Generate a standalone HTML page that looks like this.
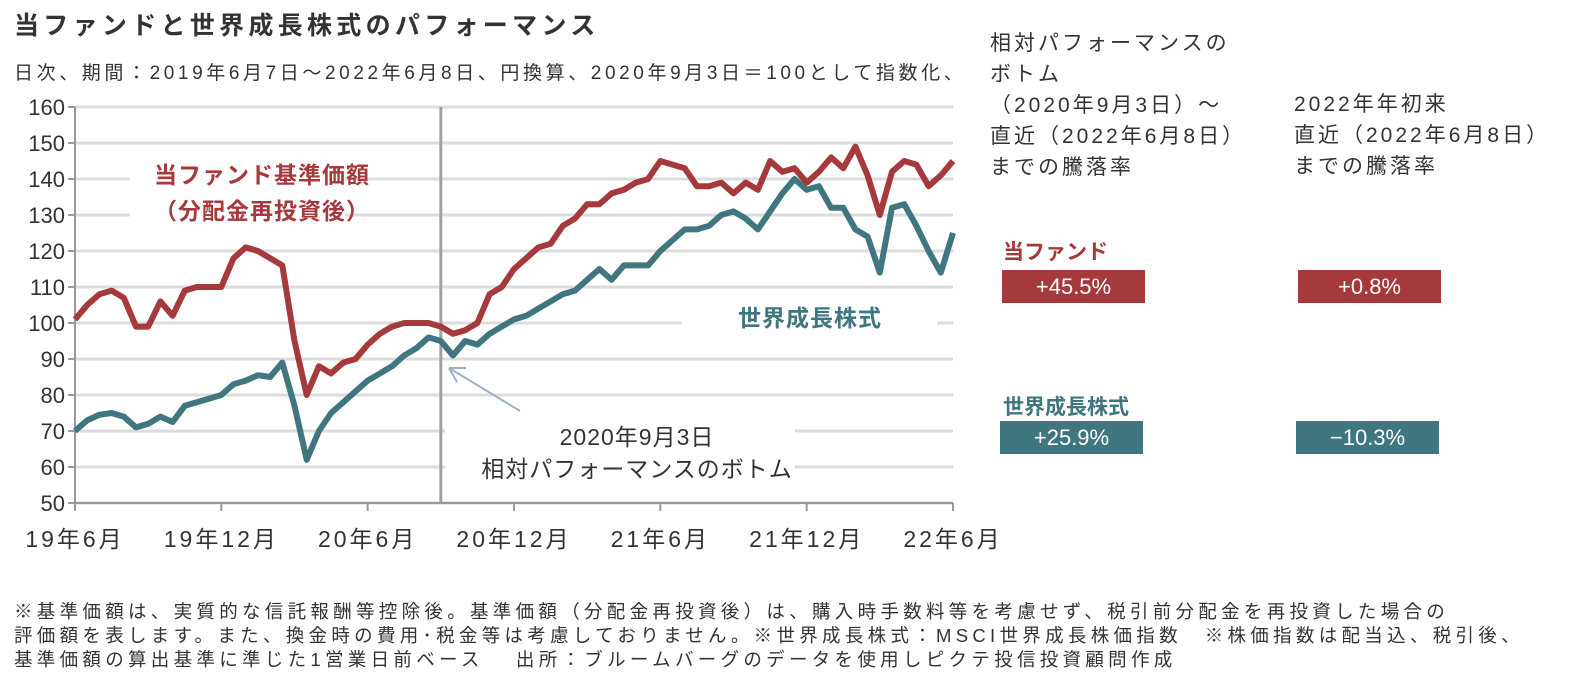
<!DOCTYPE html>
<html><head><meta charset="utf-8"><style>
body{margin:0;background:#fff;width:1570px;height:696px;overflow:hidden;font-family:"Liberation Sans","Noto Sans CJK JP",sans-serif;color:#333}
.t{position:absolute;white-space:nowrap}
.box{position:absolute;color:#fff;font-size:22px;text-align:center;line-height:33px;width:143px;height:33px}
</style></head><body>
<div class="t" style="left:14px;top:6px;font-size:25px;font-weight:bold;color:#333;letter-spacing:4.3px">当ファンドと世界成長株式のパフォーマンス</div>
<div class="t" style="left:14px;top:58px;font-size:19px;letter-spacing:3.6px">日次、期間：2019年6月7日～2022年6月8日、円換算、2020年9月3日＝100として指数化、</div>
<div class="t" style="left:990px;top:28px;font-size:21px;line-height:31px;white-space:pre;letter-spacing:3px">相対パフォーマンスの
ボトム
（2020年9月3日）～
直近（2022年6月8日）
までの騰落率</div>
<div class="t" style="left:1294px;top:89px;font-size:21px;line-height:31px;white-space:pre;letter-spacing:3px">2022年年初来
直近（2022年6月8日）
までの騰落率</div>
<div class="t" style="left:1003px;top:236px;font-size:21px;font-weight:bold;color:#A5393B">当ファンド</div>
<div class="box" style="left:1002px;top:270px;background:#A5393B">+45.5%</div>
<div class="box" style="left:1298px;top:270px;background:#A5393B">+0.8%</div>
<div class="t" style="left:1003px;top:391px;font-size:21px;font-weight:bold;color:#3F7680">世界成長株式</div>
<div class="box" style="left:1000px;top:421px;background:#3F7680">+25.9%</div>
<div class="box" style="left:1296px;top:421px;background:#3F7680">−10.3%</div>
<div class="t" style="left:14px;top:600px;font-size:18.5px;line-height:24px;white-space:pre;letter-spacing:4.3px">※基準価額は、実質的な信託報酬等控除後。基準価額（分配金再投資後）は、購入時手数料等を考慮せず、税引前分配金を再投資した場合の
評価額を表します。また、換金時の費用･税金等は考慮しておりません。※世界成長株式：MSCI世界成長株価指数　※株価指数は配当込、税引後、
基準価額の算出基準に準じた1営業日前ベース　 出所：ブルームバーグのデータを使用しピクテ投信投資顧問作成</div>
<svg id="c" width="1570" height="696" style="position:absolute;left:0;top:0"></svg>
<script>
const xLabels=["19年6月","19年12月","20年6月","20年12月","21年6月","21年12月","22年6月"];
const yTicks=[50,60,70,80,90,100,110,120,130,140,150,160];
const months=[];for(let i=0;i<=72;i++)months.push(i*0.5);
const fund=[101,105,108,109,107,99,99,106,102,109,110,110,110,118,121,120,118,116,95,80,88,86,89,90,94,97,99,100,100,100,99,97,98,100,108,110,115,118,121,122,127,129,133,133,136,137,139,140,145,144,143,138,138,139,136,139,137,145,142,143,139,142,146,143,149,141,130,142,145,144,138,141,145];
const world=[70,73,74.5,75,74,71,72,74,72.5,77,78,79,80,83,84,85.5,85,89,77,62,70,75,78,81,84,86,88,91,93,96,95,91,95,94,97,99,101,102,104,106,108,109,112,115,112,116,116,116,120,123,126,126,127,130,131,129,126,131,136,140,137,138,132,132,126,124,114,132,133,127,120,114,125];
const bottomMonth=15;
const L=75,R=953,T=107,B=503;
const X=m=>L+(R-L)*m/36, Y=v=>B-(v-50)*(B-T)/110;
const s=document.getElementById('c'),NS='http://www.w3.org/2000/svg';
function mk(tag,a,txt){const e=document.createElementNS(NS,tag);for(const k in a)e.setAttribute(k,a[k]);if(txt!=null)e.textContent=txt;s.appendChild(e);return e;}
yTicks.forEach(v=>{
 const g=mk('line',{x1:L,x2:R,y1:Y(v),y2:Y(v),stroke:'#dcdcdc','stroke-width':3});
 
 
 mk('line',{x1:L-7,x2:L,y1:Y(v),y2:Y(v),stroke:'#999','stroke-width':2});
 const t=mk('text',{x:L-10,y:Y(v)+8,'text-anchor':'end','font-size':22,fill:'#333'},v);
 
 
});
mk('line',{x1:L,x2:L,y1:T,y2:B,stroke:'#999','stroke-width':2});
mk('line',{x1:L,x2:R,y1:B,y2:B,stroke:'#999','stroke-width':2});
xLabels.forEach((l,i)=>{
 const x=X(i*6);
 mk('line',{x1:x,x2:x,y1:B,y2:B+8,stroke:'#999','stroke-width':2});
 const t=mk('text',{x:x,y:B+44,'text-anchor':'middle','font-size':23,'letter-spacing':3,fill:'#333'},l);
 
 
});
mk('rect',{x:130,y:160,width:215,height:70,fill:'#fff'});
mk('rect',{x:682,y:290,width:255,height:50,fill:'#fff'});
mk('rect',{x:445,y:415,width:350,height:75,fill:'#fff'});
const vl=mk('line',{x1:X(bottomMonth),x2:X(bottomMonth),y1:T,y2:B,stroke:'#a0a0a0','stroke-width':3});


function line(d,c,n){
 const p=mk('path',{d:d.map((v,i)=>(i?'L':'M')+X(months[i]).toFixed(1)+','+Y(v).toFixed(1)).join(''),fill:'none',stroke:c,'stroke-width':6,'stroke-linejoin':'round'});
 
 
}
line(world,'#3F7680','world-growth-line');
line(fund,'#A5393B','fund-line');
const a=mk('path',{d:'M520,411 L449,368 M449,368 L466,368 M449,368 L457,382',stroke:'#9fb0c5','stroke-width':2,fill:'none'});


const lt=[[262,183,'当ファンド基準価額','#A5393B'],[262,219,'（分配金再投資後）','#A5393B'],[810,326,'世界成長株式','#3F7680'],[637,445,'2020年9月3日','#333'],[637,477,'相対パフォーマンスのボトム','#333']];
lt.forEach(([x,y,t,c],i)=>{const e=mk('text',{x:x,y:y,'text-anchor':'middle','font-size':23,'letter-spacing':1,fill:c,'font-weight':i<3?'bold':'normal'},t);
 
 });
</script>
</body></html>
